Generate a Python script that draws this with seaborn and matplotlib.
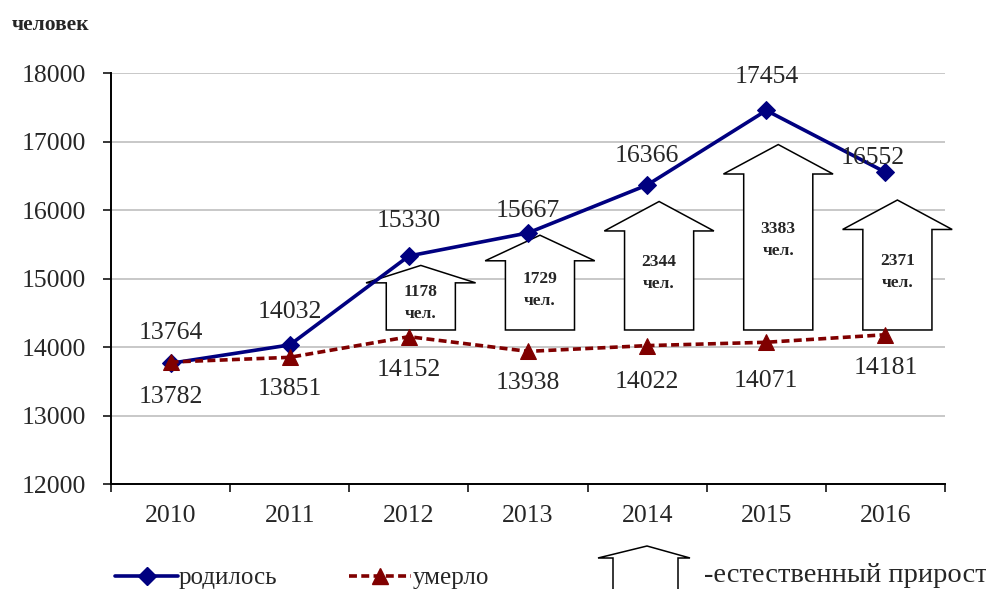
import numpy as np
import pandas as pd
import matplotlib
matplotlib.use("Agg")
import matplotlib.pyplot as plt
import seaborn as sns
from matplotlib.patches import Polygon
from matplotlib.lines import Line2D

years = ["2010", "2011", "2012", "2013", "2014", "2015", "2016"]
born = [13764, 14032, 15330, 15667, 16366, 17454, 16552]
died = [13782, 13851, 14152, 13938, 14022, 14071, 14181]
# years where the natural growth arrow is shown
arrow_years = ["2012", "2013", "2014", "2015", "2016"]

BLUE = "#000080"
RED = "#800000"
SERIF = "Liberation Serif"

sns.set_style("white")
plt.rcParams["font.family"] = [SERIF, "DejaVu Serif"]

df = pd.DataFrame({"pos": np.arange(len(years)), "year": years, "born": born, "died": died})

fig = plt.figure(figsize=(9.87, 5.89), dpi=100)
ax = fig.add_axes([0.1125, 0.178, 0.845, 0.698])

# natural growth arrows (drawn first so lines stay on top)
for yr in arrow_years:
    i = years.index(yr)
    gain = born[i] - died[i]
    cx = i + 0.1
    base = 14250
    h = 0.8 * gain
    head = min(0.27 * h, 430)
    bw, hw = 0.29, 0.46
    top = base + h
    sh = top - head
    pts = [(cx - bw, base), (cx + bw, base), (cx + bw, sh), (cx + hw, sh),
           (cx, top), (cx - hw, sh), (cx - bw, sh)]
    ax.add_patch(Polygon(pts, closed=True, facecolor="white", edgecolor="black",
                         lw=1.1, zorder=2, clip_on=False))
    ax.text(cx, base + 0.58 * (sh - base), f"{gain}\nчел.", ha="center", va="center",
            fontsize=12.5, fontweight="bold", linespacing=1.5, zorder=3)

sns.lineplot(data=df, x="pos", y="born", ax=ax, color=BLUE, lw=2.6, marker="D",
             markersize=9, markeredgecolor=BLUE, zorder=4)
sns.lineplot(data=df, x="pos", y="died", ax=ax, color=RED, lw=2.6, marker="^",
             markersize=11, markeredgecolor=RED, dashes=(2.2, 1.2), zorder=4)

# value labels
born_off = [(0, 22), (0, 24), (0, 25), (0, 16), (0, 21), (0, 24), (-9, 10)]
died_off = [(0, -25), (0, -23), (0, -24), (0, -23), (0, -26), (0, -28), (0, -24)]
for i in range(len(years)):
    ax.annotate(str(born[i]), (i, born[i]), xytext=born_off[i], textcoords="offset points",
                ha="center", va="center", fontsize=18.5, zorder=5)
    ax.annotate(str(died[i]), (i, died[i]), xytext=died_off[i], textcoords="offset points",
                ha="center", va="center", fontsize=18.5, zorder=5)

ax.set_xlim(-0.5, len(years) - 0.5)
ax.set_ylim(12000, 18000)
ax.set_yticks(range(12000, 18001, 1000))
ax.set_xticks(range(len(years)))
ax.set_xticklabels(years)
ax.set_xticks(np.arange(-0.5, len(years)), minor=True)
ax.tick_params(axis="x", which="major", length=0, pad=15, labelsize=18.5)
ax.tick_params(axis="x", which="minor", length=6, width=1.3, direction="out", bottom=True)
ax.tick_params(axis="y", length=6, width=1.3, direction="out", left=True, pad=12, labelsize=18.5)
ax.grid(axis="y", color="#c8c8c8", lw=1.4)
ax.set_axisbelow(True)
for s in ["top", "right"]:
    ax.spines[s].set_visible(False)
for s in ["left", "bottom"]:
    ax.spines[s].set_color("black")
    ax.spines[s].set_linewidth(1.4)
ax.set_xlabel("")
ax.set_ylabel("")

fig.text(0.012, 0.975, "человек", fontsize=15.5, fontweight="bold", ha="left", va="top")

# legend
handles = [Line2D([], [], color=BLUE, lw=2.6, marker="D", markersize=9),
           Line2D([], [], color=RED, lw=2.6, marker="^", markersize=11, dashes=(2.2, 1.2))]
fig.legend(handles, ["родилось", "умерло"], loc="lower left", bbox_to_anchor=(0.094, -0.039),
           ncol=2, frameon=False, fontsize=18, handlelength=2.5, handletextpad=0.05,
           columnspacing=2.85)
W, H = 987, 589
leg_arrow = [(613, 600), (613, 558), (598, 558), (647, 546), (690, 558), (678, 558), (678, 600)]
fig.add_artist(Polygon([(x / W, 1 - y / H) for x, y in leg_arrow], closed=True,
                       transform=fig.transFigure, facecolor="white", edgecolor="black", lw=1.1))
fig.text(704 / W, 1 - 576 / H, "-естественный прирост", fontsize=20.5, ha="left", va="center")

fig.savefig("out.png", dpi=100)
